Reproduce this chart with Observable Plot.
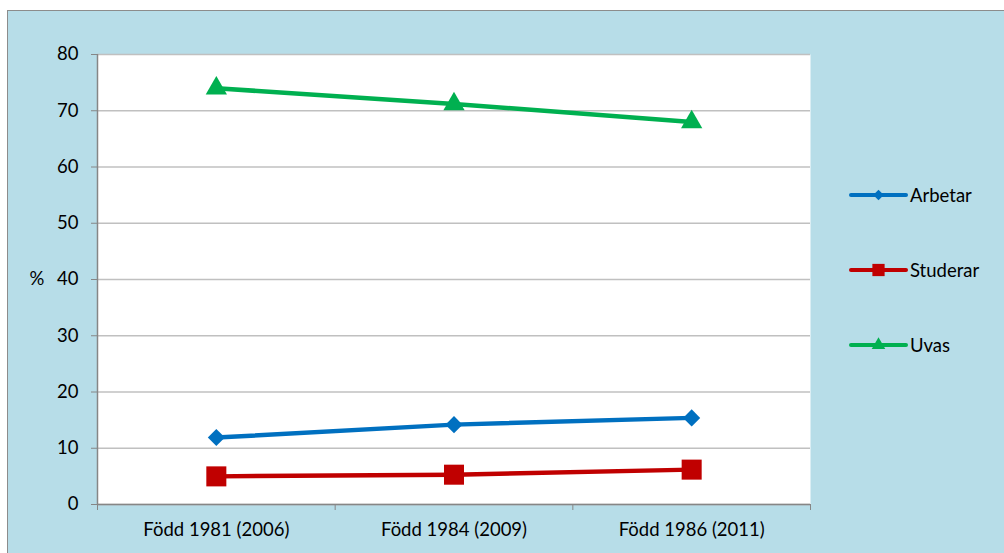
<!DOCTYPE html>
<html>
<head>
<meta charset="utf-8">
<script src="https://cdn.jsdelivr.net/npm/d3@7"></script>
<script src="https://cdn.jsdelivr.net/npm/@observablehq/plot@0.6"></script>
<style>
  html, body { margin: 0; padding: 0; background: #ffffff; width: 1004px; height: 553px; overflow: hidden; }
  #frame { position: absolute; left: 7px; top: 10px; width: 1010px; height: 560px; background: #b7dde8; border: 1px solid #8c8c8c; box-sizing: border-box; }
  #chart { position: absolute; left: 0; top: 0; }
  #legend { position: absolute; left: 833px; top: 172px; font-family: Lato, "DejaVu Sans", sans-serif; font-size: 18.5px; color: #000; }
  .item { display: flex; align-items: center; height: 24px; margin-bottom: 51px; }
  .item svg { margin-right: 2px; }
</style>
</head>
<body>
<div id="frame"><div id="chart"></div><div id="legend"></div></div>
<script>
const categories = ["Född 1981 (2006)", "Född 1984 (2009)", "Född 1986 (2011)"];
const seriesNames = ["Arbetar", "Studerar", "Uvas"];
const arbetar = [11.9, 14.2, 15.4];
const studerar = [5.0, 5.3, 6.2];
const uvas = [74.0, 71.2, 68.0];
const yTicks = [0, 10, 20, 30, 40, 50, 60, 70, 80];
const colors = ["#0070c0", "#c00000", "#00b050"];
const symbols = ["diamond2", "square", "triangle"];
const radii = [7.7, 11.3, 7.9];

const values = [arbetar, studerar, uvas];
const rows = [];
seriesNames.forEach((s, si) => values[si].forEach((v, i) => rows.push({series: s, si, pos: i + 0.5, cat: categories[i], value: v})));

const marks = [
  Plot.frame({fill: "white", stroke: null}),
  Plot.gridY(yTicks, {stroke: "#c0c0c0", strokeOpacity: 1, strokeWidth: 1.5}),
  Plot.axisY(yTicks, {tickSize: 6, tickPadding: 13, stroke: "#868686", fill: "#000", label: null}),
  Plot.axisX([0, 1, 2, 3], {tickSize: 6, tickFormat: () => "", stroke: "#868686", label: null}),
  Plot.axisX(categories.map((c, i) => i + 0.5), {tickSize: 0, tickPadding: 18, tickFormat: d => categories[Math.round(d - 0.5)], fill: "#000", label: null}),
  Plot.ruleX([0], {stroke: "#868686", strokeWidth: 1.5}),
  Plot.ruleY([0], {stroke: "#868686", strokeWidth: 1.5}),
  Plot.text(["%"], {frameAnchor: "left", textAnchor: "start", dx: -68, fill: "#000"})
];
seriesNames.forEach((s, si) => {
  const d = rows.filter(r => r.si === si);
  marks.push(Plot.line(d, {x: "pos", y: "value", stroke: colors[si], strokeWidth: 4.5}));
  marks.push(Plot.dot(d, {x: "pos", y: "value", fill: colors[si], stroke: null, symbol: symbols[si], r: radii[si]}));
});

const chart = Plot.plot({
  width: 996, height: 542,
  marginLeft: 89, marginRight: 194, marginTop: 43, marginBottom: 49,
  x: {domain: [0, 3]},
  y: {domain: [0, 80]},
  style: {background: "transparent", fontFamily: "Lato, 'DejaVu Sans', sans-serif", fontSize: "18.5px", color: "#000"},
  marks
});
document.getElementById("chart").appendChild(chart);

// Legend
const legend = d3.select("#legend");
seriesNames.forEach((s, si) => {
  const item = legend.append("div").attr("class", "item");
  const svg = item.append("svg").attr("width", 67).attr("height", 24);
  svg.append("line").attr("x1", 10).attr("x2", 65).attr("y1", 12).attr("y2", 12)
    .attr("stroke", colors[si]).attr("stroke-width", 4).attr("stroke-linecap", "round");
  const sym = {diamond2: d3.symbolDiamond2, square: d3.symbolSquare, triangle: d3.symbolTriangle}[symbols[si]];
  const size = [70, 150, 80][si];
  svg.append("path").attr("d", d3.symbol(sym, size)()).attr("transform", "translate(37.5,12)").attr("fill", colors[si]);
  item.append("span").text(s);
});
</script>
</body>
</html>
